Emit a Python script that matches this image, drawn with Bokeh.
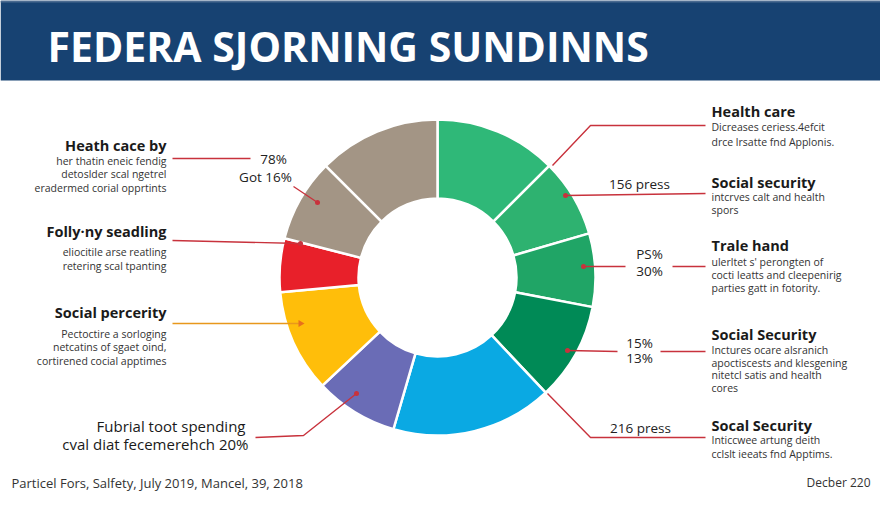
import math
from bokeh.plotting import figure
from bokeh.models import Range1d, ColumnDataSource
from bokeh.core.properties import value
from bokeh.embed import file_html
from bokeh.resources import INLINE

# ---- data ----
segments = ["Health care", "Social security", "Trale hand", "Social Security",
            "Socal Security", "Fubrial toot spending", "Social percerity",
            "Folly-ny seadling", "Got", "Heath cace by"]
shares = [12.5, 8.0, 7.5, 10.0, 16.5, 8.5, 10.5, 5.5, 8.5, 12.5]
colors = ["#2fb878", "#2eb270", "#20a566", "#008a56", "#0aa9e3",
          "#6a6cb6", "#ffbe0a", "#e8202a", "#a39585", "#a39585"]

title_text = "FEDERA SJORNING SUNDINNS"
footer_left = "Particel Fors, Salfety, July 2019, Mancel, 39, 2018"
footer_right = "Decber 220"

left_titles = ["Heath cace by", "Folly·ny seadling", "Social percerity"]
left_subs = [["her thatin eneic fendig", "detoslder scal ngetrel", "eradermed corial opprtints"],
             ["eliocitile arse reatling", "retering scal tpanting"],
             ["Pectoctire a sorloging", "netcatins of sgaet oind,", "cortirened cocial apptimes"]]
right_titles = ["Health care", "Social security", "Trale hand", "Social Security", "Socal Security"]
right_subs = [["Dicreases ceriess.4efcit", "drce lrsatte fnd Applonis."],
              ["intcrves calt and health", "spors"],
              ["ulerltet s' perongten of", "cocti leatts and cleepenirig", "parties gatt in fotority."],
              ["Inctures ocare alsranich", "apoctiscests and klesgening", "nitetcl satis and health", "cores"],
              ["Inticcwee artung deith", "cclslt ieeats fnd Apptims."]]
pct_labels = ["78%", "Got 16%", "156 press", "PS%", "30%", "15%", "13%", "216 press"]
bottom_label = ["Fubrial toot spending", "cval diat fecemerehch 20%"]

W, H = 880, 496
def Y(y):
    return 512 - y

p = figure(width=W, height=H, output_backend="svg", toolbar_location=None,
           x_range=Range1d(0, 880), y_range=Range1d(16, 512),
           min_border=0, outline_line_color=None)
p.axis.visible = False
p.grid.visible = False
p.background_fill_color = "white"
p.border_fill_color = "white"

FONT = value("Open Sans")

# header band
p.quad(left=0, right=896, bottom=Y(80), top=Y(0), fill_color="#174272", line_color=None)
p.quad(left=0, right=896, bottom=Y(2), top=Y(0), fill_color="#4a6a90", line_color=None)
p.text(x=[47], y=[Y(45)], text=[title_text], text_font=FONT, text_font_style="bold",
       text_font_size="41px", text_color="white", text_baseline="middle", text_align="left")

# donut
cx, cy = 437, Y(277)
total = sum(shares)
starts, ends = [], []
cum = 0.0
for s in shares:
    a0 = math.pi / 2 - (cum + s) / total * 2 * math.pi
    a1 = math.pi / 2 - cum / total * 2 * math.pi
    starts.append(a0)
    ends.append(a1)
    cum += s
src = ColumnDataSource(dict(start=starts, end=ends, color=colors, name=segments))
p.annular_wedge(x=cx, y=cy, inner_radius=79, outer_radius=158,
                start_angle="start", end_angle="end", direction="anticlock",
                fill_color="color", line_color="white", line_width=2.5, source=src)

RED = "#c8323c"
def line(xs, ys, color=RED, w=1.4):
    p.line(xs, [Y(v) for v in ys], line_color=color, line_width=w)

def dot(x, y, color=RED):
    p.scatter([x], [Y(y)], size=5, fill_color=color, line_color=None)

# left leaders
line([172, 250], [158, 158])
line([293, 317], [186, 202])
dot(317, 202)
line([172, 300], [240, 243])
dot(300, 243)
line([172, 300], [323, 323], color="#e8981c", w=1.6)
p.scatter([300], [Y(323)], marker="triangle", angle=-math.pi / 2, size=7,
          fill_color="#e8701c", line_color=None)
line([255, 303, 356], [437, 435, 393])
dot(356, 393)

# right leaders
line([552, 590, 705], [165, 125, 125])
line([565, 705], [195, 193])
dot(565, 195)
line([583, 625], [266, 266])
line([672, 705], [266, 266])
dot(583, 266)
line([567, 617], [350, 351])
line([660, 705], [351, 351])
dot(567, 350)
line([547, 590, 705], [393, 437, 437])

# percentage labels
pct_pos = [(273, 158), (265, 176), (639, 183), (649, 253), (649, 270),
           (639, 342), (639, 357), (640, 427)]
p.text(x=[a for a, b in pct_pos], y=[Y(b) for a, b in pct_pos], text=pct_labels,
       text_font=FONT, text_font_size="13.5px", text_color="#222222",
       text_align="center", text_baseline="middle")

# left text blocks
left_y = [145, 231, 312]
left_sub_y = [[160, 173, 187], [251, 265], [333, 346, 360]]
for t, yy, subs, sy in zip(left_titles, left_y, left_subs, left_sub_y):
    p.text(x=[166], y=[Y(yy)], text=[t], text_font=FONT, text_font_style="bold",
           text_font_size="14.5px", text_color="#1a1a1a", text_align="right", text_baseline="middle")
    p.text(x=[166] * len(subs), y=[Y(v) for v in sy], text=subs, text_font=FONT,
           text_font_size="10.5px", text_color="#333333", text_align="right", text_baseline="middle")

p.text(x=[245, 248], y=[Y(425), Y(443)], text=bottom_label, text_font=FONT,
       text_font_size="15px", text_color="#1a1a1a", text_align="right", text_baseline="middle")

# right text blocks
right_y = [111, 182, 245, 334, 425]
right_sub_y = [[126, 141], [196, 209], [261, 274, 287], [349, 362, 374, 387], [439, 453]]
for t, yy, subs, sy in zip(right_titles, right_y, right_subs, right_sub_y):
    p.text(x=[711], y=[Y(yy)], text=[t], text_font=FONT, text_font_style="bold",
           text_font_size="14.5px", text_color="#1a1a1a", text_align="left", text_baseline="middle")
    p.text(x=[711] * len(subs), y=[Y(v) for v in sy], text=subs, text_font=FONT,
           text_font_size="10.5px", text_color="#333333", text_align="left", text_baseline="middle")

# footer
p.text(x=[11], y=[Y(482)], text=[footer_left], text_font=FONT, text_font_size="13px",
       text_color="#333333", text_align="left", text_baseline="middle")
p.text(x=[870], y=[Y(482)], text=[footer_right], text_font=FONT, text_font_size="12px",
       text_color="#333333", text_align="right", text_baseline="middle")

open("out.html", "w").write(file_html(p, INLINE))
